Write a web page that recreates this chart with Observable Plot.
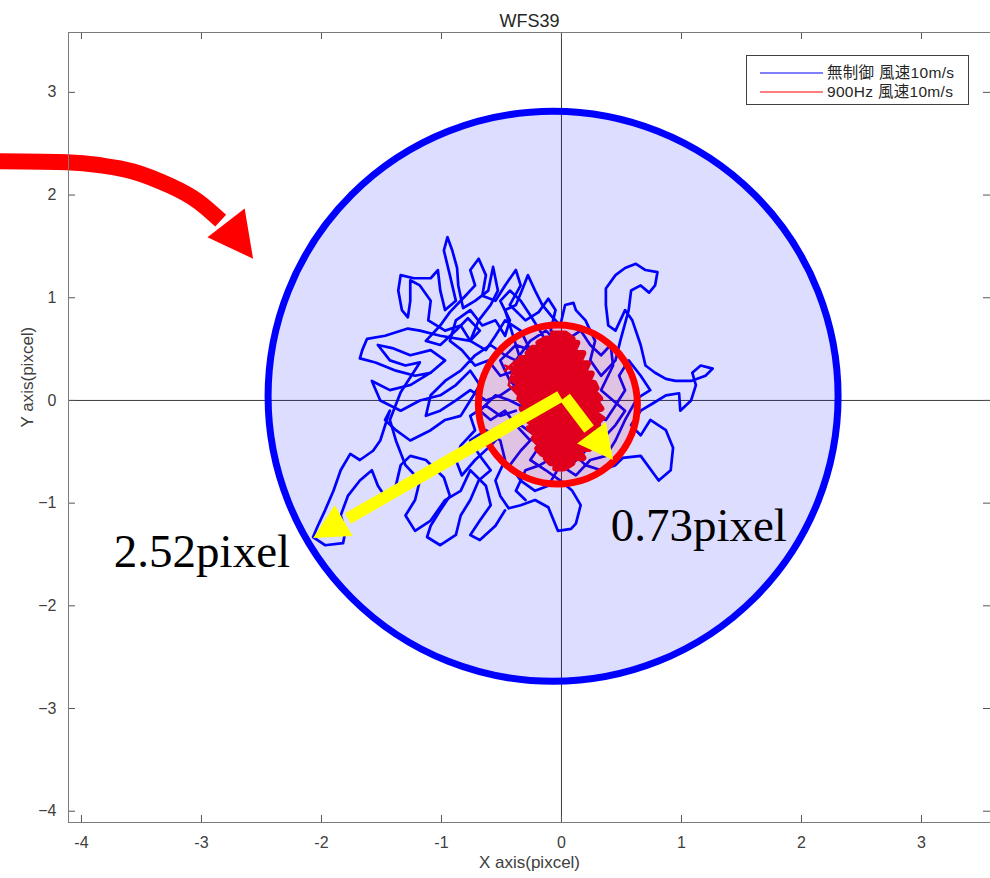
<!DOCTYPE html>
<html><head><meta charset="utf-8">
<script src="https://cdn.jsdelivr.net/npm/d3@7"></script>
<script src="https://cdn.jsdelivr.net/npm/@observablehq/plot@0.6"></script>
<style>
body{margin:0;background:#fff;}
#wrap{position:relative;width:990px;height:878px;overflow:hidden;}
#legend{position:absolute;left:746px;top:55px;width:221px;height:48px;border:1px solid #404040;background:#fff;font-family:"Liberation Sans","Noto Sans CJK JP",sans-serif;font-size:15.5px;letter-spacing:0.3px;color:#262626;}
.row{position:absolute;left:0;height:19px;line-height:19px;white-space:nowrap;}
.row svg{position:absolute;left:13px;top:0;}
.row span{position:absolute;left:80px;top:0;line-height:19px;}
</style></head><body><div id="wrap"><div id="legend"></div></div>
<script>
// ---- data ----
const titleText = "WFS39";
const xLabel = "X axis(pixcel)";
const yLabel = "Y axis(pixcel)";
const xDomain = [-4.108, 3.575];
const yDomain = [-4.11, 3.583];
const xTicks = [-4, -3, -2, -1, 0, 1, 2, 3];
const xTickLabels = ["-4", "-3", "-2", "-1", "0", "1", "2", "3"];
const yTicks = [-4, -3, -2, -1, 0, 1, 2, 3];
const yTickLabels = ["\u22124", "\u22123", "\u22122", "\u22121", "0", "1", "2", "3"];
const legendLabels = ["無制御 風速10m/s", "900Hz 風速10m/s"];
const legendColors = ["#0000ff", "#ff0000"];

// 無制御 trajectory (x, y), traced in several stretches
const bluePath = [
[-0.05,0.00],[-0.18,0.15],[-0.30,0.05],[-0.43,0.19],[-0.51,0.39],[-0.38,0.54],[-0.26,0.49],[-0.34,0.68],[-0.47,0.78],[-0.55,0.63],
[-0.63,0.49],[-0.76,0.58],[-0.69,0.78],[-0.59,0.93],[-0.53,1.07],[-0.57,1.30],[-0.61,1.07],[-0.72,0.97],[-0.82,0.90],[-0.86,1.12],
[-0.87,1.29],[-0.91,1.46],[-0.95,1.59],[-0.98,1.46],[-0.93,1.22],[-0.88,0.97],[-0.97,0.88],[-1.01,1.07],[-1.03,1.27],[-1.09,1.19],
[-1.23,1.19],[-1.34,1.22],[-1.36,1.07],[-1.33,0.88],[-1.28,0.81],[-1.26,0.97],[-1.26,1.17],[-1.18,1.12],[-1.09,0.97],[-1.11,0.78],
[-0.97,0.68],[-0.84,0.73],[-0.76,0.58],[-1.01,0.63],[-1.18,0.68],[-1.28,0.70],[-1.47,0.63],[-1.62,0.60],[-1.66,0.49],[-1.68,0.41],
[-1.55,0.37],[-1.38,0.29],[-1.22,0.24],[-1.09,0.27],[-1.26,0.15],[-1.43,0.10],[-1.58,0.19],[-1.51,0.00],[-1.34,-0.10],[-1.18,0.00],
[-1.01,0.05],[-0.88,0.15],[-0.76,0.29],[-0.68,0.15],[-0.76,0.00],[-0.84,-0.15],[-0.97,-0.19],[-1.09,-0.29],[-1.26,-0.39],[-1.38,-0.29],
[-1.47,-0.19],[-1.43,-0.10],[-1.51,-0.39],[-1.57,-0.49],[-1.68,-0.58],[-1.76,-0.52],[-1.84,-0.68],[-1.90,-0.88],[-1.97,-1.07],[-2.03,-1.22],
[-2.07,-1.33],[-1.97,-1.41],[-1.82,-1.39],[-1.80,-1.27],[-1.84,-1.12],[-1.78,-0.93],[-1.68,-0.78],[-1.58,-0.68],[-1.53,-0.83],[-1.45,-0.97],
[-1.38,-0.83],[-1.34,-0.63],[-1.26,-0.54],[-1.13,-0.58],[-0.98,-0.75],[-0.93,-0.93],[-1.01,-1.07],[-1.09,-1.22],[-1.12,-1.33],[-1.01,-1.41],
[-0.88,-1.31],[-0.84,-1.12],[-0.76,-0.97],[-0.69,-0.78],[-0.59,-0.68],[-0.68,-0.54],[-0.76,-0.39],[-0.63,-0.29],[-0.51,-0.39],[-0.47,-0.58],
[-0.55,-0.78],[-0.51,-0.93],[-0.44,-1.05],[-0.34,-1.02],[-0.22,-0.97],[-0.11,-1.04],[-0.03,-1.27],[0.08,-1.25],[0.12,-1.20],[0.16,-1.02],
[0.09,-0.88],[-0.01,-0.78],[-0.13,-0.68],[-0.26,-0.58],[-0.18,-0.44],[-0.05,-0.39],[0.08,-0.49],[0.20,-0.63],[0.33,-0.68],[0.45,-0.63],
[0.51,-0.56],[0.66,-0.54],[0.81,-0.78],[0.91,-0.68],[0.93,-0.46],[0.87,-0.29],[0.74,-0.19],[0.66,-0.34],[0.58,-0.24],[0.66,-0.10],
[0.76,-0.03],[0.87,0.05],[0.98,0.07],[0.99,-0.10],[1.08,0.00],[1.12,0.15],[1.09,0.27],[1.16,0.34],[1.26,0.31],[1.20,0.24],
[1.08,0.19],[0.95,0.19],[0.87,0.21],[0.78,0.27],[0.70,0.34],[0.66,0.54],[0.59,0.78],[0.53,0.88],[0.45,0.68],[0.39,0.73],
[0.37,0.93],[0.37,1.09],[0.45,1.22],[0.53,1.29],[0.62,1.33],[0.70,1.27],[0.80,1.25],[0.78,1.12],[0.73,1.05],[0.66,1.12],
[0.58,1.07],[0.56,0.88],[0.49,0.58],[0.45,0.39],[0.33,0.24],[0.24,0.39],[0.28,0.58],[0.20,0.78],[0.12,0.88],[0.10,0.95],
[0.03,0.93],[-0.01,0.73],[-0.09,0.83],[-0.16,0.93],[-0.22,1.07],[-0.28,1.22],[-0.33,1.07],[-0.38,0.93],[-0.47,0.88],[-0.34,0.39],
[-0.22,0.24],[-0.09,0.34],[0.03,0.19],[0.16,0.05],[0.28,-0.10],[0.33,-0.29],[0.24,-0.44],[0.12,-0.29],[-0.01,-0.19],[-0.13,-0.29],
[-0.26,-0.39],[-0.38,-0.24],[-0.47,-0.10],[-0.59,-0.19],[-0.68,-0.10],[-0.55,0.05],[-0.43,0.00],[-0.26,-0.10],[-0.13,0.00]
];
const bluePath2 = [
[-0.13,0.00],[-0.26,0.15],[-0.38,0.29],[-0.51,0.24],[-0.61,0.39],[-0.72,0.34],[-0.83,0.49],[-0.93,0.58],[-0.88,0.78],[-0.76,0.88],
[-0.66,0.73],[-0.55,0.78],[-0.47,0.63],[-0.43,0.78],[-0.51,0.97],[-0.43,1.07],[-0.34,0.97],[-0.26,0.83],[-0.18,0.68],[-0.11,0.54],
[-0.18,0.39],[-0.28,0.29],[-0.38,0.15],[-0.51,0.05],[-0.63,0.00],[-0.76,0.10],[-0.88,0.00],[-1.01,-0.10],[-1.13,-0.15],[-1.09,0.05],
[-0.97,0.19],[-0.84,0.29],[-0.72,0.44],[-0.59,0.54],[-0.47,0.44],[-0.38,0.39],[-0.26,0.58],[-0.13,0.68],[-0.01,0.54],[0.12,0.44],
[0.20,0.24],[0.14,0.05],[0.24,-0.15],[0.37,-0.19],[0.45,-0.05],[0.53,0.10],[0.48,0.24],[0.56,0.39],[0.66,0.24],[0.74,0.10],
[0.63,0.02],[0.53,-0.19],[0.45,-0.39],[0.37,-0.54],[0.24,-0.58],[0.12,-0.73],[-0.01,-0.63],[-0.11,-0.83],[-0.22,-0.88],[-0.34,-0.78],
[-0.43,-0.63],[-0.34,-0.49],[-0.22,-0.34],[-0.34,-0.24],[-0.47,-0.29],[-0.59,-0.44],[-0.72,-0.58],[-0.83,-0.73],[-0.88,-0.58],[-0.84,-0.44],
[-0.72,-0.29],[-0.76,-0.15],[-0.63,-0.05],[-0.51,-0.15],[-0.38,-0.10]
];
const bluePath3 = [
[-1.09,0.27],[-0.97,0.39],[-1.09,0.49],[-1.26,0.44],[-1.41,0.51],[-1.53,0.54],[-1.43,0.39],[-1.30,0.34],[-1.18,0.37],[-1.34,0.08],
[-1.43,-0.19],[-1.38,-0.39],[-1.30,-0.63],[-1.18,-0.78],[-1.22,-0.97],[-1.30,-1.12],[-1.22,-1.27],[-1.09,-1.17],[-0.97,-0.97],[-0.84,-0.88],
[-0.76,-0.68],[-0.63,-0.83],[-0.59,-1.02],[-0.68,-1.17],[-0.76,-1.31],[-0.68,-1.36],[-0.55,-1.22],[-0.47,-1.07]
];
const bluePath4 = [
[-0.76,0.58],[-0.68,0.68],[-0.78,0.80],[-0.88,0.68],[-1.01,0.54],[-1.13,0.58],[-1.01,0.73],[-0.93,0.86],[-0.80,1.02],[-0.72,1.12],
[-0.76,1.27],[-0.69,1.38],[-0.63,1.22],[-0.66,1.02],[-0.55,0.97],[-0.47,1.12],[-0.38,1.27],[-0.34,1.12],[-0.43,0.93],[-0.30,0.78],
[-0.19,0.86],[-0.11,0.99],[-0.05,0.88],[-0.09,0.68],[0.03,0.58],[0.16,0.68],[0.24,0.54],[0.33,0.44],[0.41,0.54],[0.43,0.34],
[0.33,0.10],[0.43,0.00],[0.53,-0.10],[0.45,-0.24],[0.33,-0.39],[0.20,-0.49],[0.08,-0.63],[-0.05,-0.54],[-0.18,-0.63],[-0.30,-0.68],
[-0.38,-0.88],[-0.30,-0.97]
];

// 900Hz trajectory (x, y)
const redPath = [
[-0.07,0.65],[0.03,0.65],[0.09,0.60],[-0.13,0.60],[-0.19,0.56],[0.13,0.56],[0.11,0.51],[-0.24,0.51],[-0.28,0.46],[0.18,0.46],
[0.16,0.41],[-0.34,0.41],[-0.36,0.36],[0.22,0.36],[0.20,0.31],[-0.40,0.31],[-0.38,0.26],[0.25,0.26],[0.23,0.21],[-0.41,0.21],
[-0.36,0.17],[0.27,0.17],[0.29,0.12],[-0.38,0.12],[-0.33,0.07],[0.28,0.07],[0.32,0.02],[-0.35,0.02],[-0.31,-0.03],[0.30,-0.03],
[0.33,-0.08],[-0.33,-0.08],[-0.28,-0.13],[0.29,-0.13],[0.32,-0.18],[-0.29,-0.18],[-0.25,-0.22],[0.28,-0.22],[0.29,-0.27],[-0.27,-0.27],
[-0.22,-0.32],[0.24,-0.32],[0.26,-0.37],[-0.23,-0.37],[-0.19,-0.42],[0.21,-0.42],[0.23,-0.47],[-0.20,-0.47],[-0.16,-0.52],[0.16,-0.52],
[0.18,-0.56],[-0.13,-0.56],[-0.09,-0.61],[0.09,-0.61],[0.02,-0.66],[-0.05,-0.66]
];
const redStrands = [[-0.30,0.20],[-0.47,0.34],[-0.36,0.28],[0.10,0.05],[0.36,-0.17],[0.24,-0.30],[0.05,-0.40]];
const redStrandsLeft = [[-0.47,0.29],[-0.38,0.39],[-0.44,0.15],[-0.36,0.05]];
const redStrandsRight = [[0.33,-0.19],[0.26,-0.39],[0.35,-0.29]];

// overlay circles (centre x, y)
const blueCircle = [{x: -0.07, y: 0.04}];
const redCircle = [{x: -0.03, y: -0.04}];

// yellow radius arrows
const arrowShafts = [
  {x1: -0.01, y1: 0.04, x2: -1.78, y2: -1.15},
  {x1: 0.03, y1: 0.03, x2: 0.23, y2: -0.28}
];
const longHead = [[-2.07,-1.34],[-1.89,-1.02],[-1.74,-1.32]];
const shortHead = [[0.43,-0.58],[0.37,-0.21],[0.13,-0.42]];

// red pointer arrow
const redArrowPath = [[-4.72,2.33],[-4.12,2.32],[-3.84,2.29],[-3.57,2.23],[-3.26,2.09],[-3.03,1.94],[-2.84,1.75]];
const redArrowHead = [[-2.57,1.38],[-2.95,1.59],[-2.64,1.87]];

// radius labels
const labelText = ["2.52pixel", "0.73pixel"];
const labelX = [-3.73, 0.41];
const labelY = [-1.62, -1.37];
const labels = labelText.map((t, i) => ({text: t, x: labelX[i], y: labelY[i]}));

// ---- chart ----
const px = d => d[0], py = d => d[1];
const sans = '"Liberation Sans", Arial, Helvetica, sans-serif';
const blueStyle = {x: px, y: py, stroke: "#0000ff", strokeWidth: 2.7, strokeLinejoin: "round"};
const strandStyle = {x: px, y: py, stroke: "#ff0000", strokeWidth: 2.5, strokeLinejoin: "round"};
const chart = Plot.plot({
  width: 990, height: 878,
  marginLeft: 68, marginRight: 0, marginTop: 32, marginBottom: 56,
  x: {domain: xDomain},
  y: {domain: yDomain},
  style: {fontFamily: sans, background: "#fff", overflow: "hidden"},
  marks: [
    Plot.ruleX([0], {stroke: "#3a3a3a", strokeWidth: 1}),
    Plot.ruleY([0], {stroke: "#3a3a3a", strokeWidth: 1}),
    Plot.line(bluePath, blueStyle),
    Plot.line(bluePath2, blueStyle),
    Plot.line(bluePath3, blueStyle),
    Plot.line(bluePath4, blueStyle),
    Plot.line(redPath, {x: px, y: py, stroke: "#ff0000", strokeWidth: 6.5, strokeLinejoin: "round"}),
    Plot.line(redStrands, strandStyle),
    Plot.line(redStrandsLeft, strandStyle),
    Plot.line(redStrandsRight, strandStyle),
    Plot.dot(blueCircle, {x: "x", y: "y", r: 285, fill: "#0000ff", fillOpacity: 0.135, stroke: "#0000ff", strokeWidth: 7}),
    Plot.dot(redCircle, {x: "x", y: "y", r: 79.5, fill: "#ff0000", fillOpacity: 0.113, stroke: "#ff0000", strokeWidth: 7}),
    Plot.link(arrowShafts, {x1: "x1", y1: "y1", x2: "x2", y2: "y2", stroke: "#ffff00", strokeWidth: 12, strokeLinecap: "butt"}),
    Plot.line(longHead, {x: px, y: py, fill: "#ffff00", stroke: "none"}),
    Plot.line(shortHead, {x: px, y: py, fill: "#ffff00", stroke: "none"}),
    Plot.line(redArrowPath, {x: px, y: py, curve: "natural", stroke: "#ff0000", strokeWidth: 16, strokeLinecap: "butt"}),
    Plot.line(redArrowHead, {x: px, y: py, fill: "#ff0000", stroke: "none"}),
    Plot.text(labels, {x: "x", y: "y", text: "text", textAnchor: "start", lineAnchor: "bottom",
      fontFamily: '"Liberation Serif", "Times New Roman", serif', fontSize: 47, fill: "#000"}),
    // ticks pointing inward on all four sides
    Plot.ruleX(xTicks, {x: d => d, insetTop: 783, stroke: "#555"}),
    Plot.ruleX(xTicks, {x: d => d, insetBottom: 783, stroke: "#555"}),
    Plot.ruleY(yTicks, {y: d => d, insetRight: 915, stroke: "#555"}),
    Plot.ruleY(yTicks, {y: d => d, insetLeft: 915, stroke: "#555"}),
    Plot.frame({stroke: "#7a7a7a", strokeWidth: 1}),
    Plot.axisX(xTicks, {anchor: "bottom", tickSize: 0, tickPadding: 14, label: null, fontSize: 16, fill: "#404040",
      tickFormat: d => xTickLabels[xTicks.indexOf(d)]}),
    Plot.axisY(yTicks, {anchor: "left", tickSize: 0, tickPadding: 12, label: null, fontSize: 16, fill: "#404040",
      tickFormat: d => yTickLabels[yTicks.indexOf(d)]}),
    Plot.text([titleText], {text: d => d, frameAnchor: "top", dy: -6, lineAnchor: "bottom", fontSize: 18, fill: "#262626"}),
    Plot.text([xLabel], {text: d => d, frameAnchor: "bottom", dy: 40, lineAnchor: "middle", fontSize: 17, fill: "#404040"}),
    Plot.text([yLabel], {text: d => d, frameAnchor: "left", dx: -41, rotate: -90, lineAnchor: "middle", fontSize: 17, fill: "#404040"})
  ]
});
const wrap = document.getElementById("wrap");
wrap.insertBefore(chart, wrap.firstChild);

const legend = document.getElementById("legend");
const svgNS = "http://www.w3.org/2000/svg";
legendLabels.forEach((lab, i) => {
  const row = document.createElement("div");
  row.className = "row";
  row.style.top = (7 + i * 19) + "px";
  row.style.width = "221px";
  const s = document.createElementNS(svgNS, "svg");
  s.setAttribute("width", "63"); s.setAttribute("height", "19");
  const ln = document.createElementNS(svgNS, "line");
  ln.setAttribute("x1", "0"); ln.setAttribute("x2", "63");
  ln.setAttribute("y1", "10"); ln.setAttribute("y2", "10");
  ln.setAttribute("stroke", legendColors[i]); ln.setAttribute("stroke-width", "1.2");
  s.appendChild(ln);
  const tx = document.createElement("span");
  tx.textContent = lab;
  row.appendChild(s); row.appendChild(tx);
  legend.appendChild(row);
});
</script></body></html>
